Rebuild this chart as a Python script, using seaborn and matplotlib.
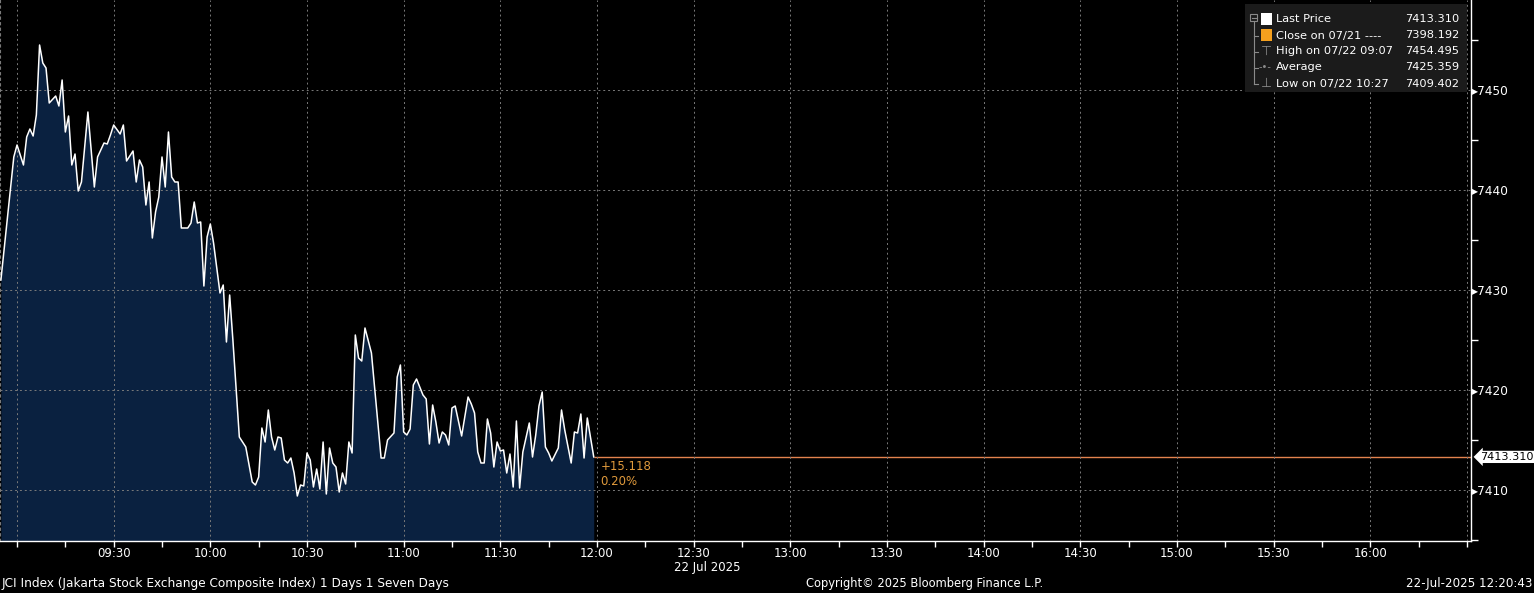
import pandas as pd
import seaborn as sns
import matplotlib.pyplot as plt
import matplotlib.dates as mdates
import matplotlib.ticker as mticker
import matplotlib.transforms as mtransforms
from matplotlib.patches import Rectangle
from matplotlib.lines import Line2D

# Intraday prints (22 Jul 2025)
times = [
    "08:55", "08:59", "09:00", "09:02", "09:03", "09:04", "09:05", "09:06", "09:07", "09:08",
    "09:09", "09:10", "09:12", "09:13", "09:14", "09:15", "09:16", "09:17", "09:18", "09:19",
    "09:20", "09:22", "09:24", "09:25", "09:27", "09:28", "09:29", "09:30", "09:32", "09:33",
    "09:34", "09:36", "09:37", "09:38", "09:39", "09:40", "09:41", "09:42", "09:43", "09:44",
    "09:45", "09:46", "09:47", "09:48", "09:49", "09:50", "09:51", "09:53", "09:54", "09:55",
    "09:56", "09:57", "09:58", "09:59", "10:00", "10:01", "10:03", "10:04", "10:05", "10:06",
    "10:07", "10:09", "10:11", "10:13", "10:14", "10:15", "10:16", "10:17", "10:18", "10:19",
    "10:20", "10:21", "10:22", "10:23", "10:24", "10:25", "10:26", "10:27", "10:28", "10:29",
    "10:30", "10:31", "10:32", "10:33", "10:34", "10:35", "10:36", "10:37", "10:38", "10:39",
    "10:40", "10:41", "10:42", "10:43", "10:44", "10:45", "10:46", "10:47", "10:48", "10:50",
    "10:53", "10:54", "10:55", "10:57", "10:58", "10:59", "11:00", "11:01", "11:02", "11:03",
    "11:04", "11:06", "11:07", "11:08", "11:09", "11:10", "11:11", "11:12", "11:13", "11:14",
    "11:15", "11:16", "11:18", "11:20", "11:21", "11:22", "11:23", "11:24", "11:25", "11:26",
    "11:27", "11:28", "11:29", "11:30", "11:31", "11:32", "11:33", "11:34", "11:35", "11:36",
    "11:37", "11:39", "11:40", "11:41", "11:42", "11:43", "11:44", "11:45", "11:46", "11:48",
    "11:49", "11:50", "11:52", "11:53", "11:54", "11:55", "11:56", "11:57", "11:59",
]
prices = [
    7431.0, 7443.3, 7444.5, 7442.5, 7445.3, 7446.1, 7445.4, 7447.5, 7454.5, 7452.7,
    7452.2, 7448.7, 7449.4, 7448.4, 7451.0, 7445.8, 7447.4, 7442.5, 7443.6, 7439.9,
    7440.8, 7447.8, 7440.3, 7443.3, 7444.7, 7444.6, 7445.5, 7446.5, 7445.6, 7446.5,
    7442.9, 7443.9, 7440.8, 7443.0, 7442.3, 7438.5, 7440.8, 7435.2, 7437.8, 7439.3,
    7443.3, 7440.3, 7445.8, 7441.3, 7440.8, 7440.8, 7436.2, 7436.2, 7436.7, 7438.8,
    7436.7, 7436.8, 7430.4, 7435.3, 7436.6, 7434.7, 7429.7, 7430.5, 7424.8, 7429.5,
    7425.0, 7415.3, 7414.3, 7410.8, 7410.5, 7411.3, 7416.2, 7414.8, 7418.0, 7415.3,
    7414.0, 7415.3, 7415.2, 7413.0, 7412.7, 7413.2, 7411.7, 7409.4, 7410.5, 7410.4,
    7413.7, 7413.0, 7410.3, 7412.1, 7410.1, 7414.8, 7409.6, 7414.2, 7412.7, 7412.3,
    7409.8, 7411.7, 7410.6, 7414.8, 7413.7, 7425.5, 7423.2, 7422.9, 7426.2, 7423.7,
    7413.2, 7413.2, 7415.0, 7415.7, 7421.3, 7422.5, 7415.8, 7415.5, 7416.1, 7420.5,
    7421.1, 7419.5, 7419.1, 7414.6, 7418.5, 7416.8, 7414.7, 7415.8, 7415.5, 7414.5,
    7418.2, 7418.4, 7415.4, 7419.3, 7418.6, 7417.7, 7413.8, 7412.7, 7412.7, 7417.1,
    7415.7, 7412.3, 7414.8, 7413.9, 7414.0, 7411.7, 7413.6, 7410.3, 7416.9, 7410.2,
    7413.8, 7416.7, 7413.3, 7415.5, 7418.4, 7419.8, 7414.3, 7413.7, 7412.9, 7414.2,
    7418.0, 7416.0, 7412.7, 7415.8, 7415.7, 7417.6, 7413.2, 7417.2, 7413.31,
]

# Legend / summary values
legend_labels = ["Last Price", "Close on 07/21 ----", "High on 07/22 09:07", "Average", "Low on 07/22 10:27"]
legend_values = [7413.310, 7398.192, 7454.495, 7425.359, 7409.402]
prev_close = 7398.192

tick_times = ["09:00", "09:30", "10:00", "10:30", "11:00", "11:30", "12:00", "12:30", "13:00",
              "13:30", "14:00", "14:30", "15:00", "15:30", "16:00", "16:30"]

day = "2025-07-22 "
df = pd.DataFrame({"time": pd.to_datetime([day + t for t in times]), "price": prices})
last = df["price"].iloc[-1]
change = last - prev_close
pct = change / prev_close * 100

W, H = 1534, 593
BG = "black"
NAVY = "#0a2140"
ORANGE_LINE = "#e3834e"
ORANGE_TXT = "#e09a3c"
GRID = "#7a7a7a"

plt.rcParams["font.family"] = ["DejaVu Sans"]
fig = plt.figure(figsize=(W / 100, H / 100), dpi=100, facecolor=BG)
ax = fig.add_axes([0, 52 / H, 1471 / W, 541 / H], facecolor=BG)

# area + line
ax.fill_between(df["time"], df["price"], 7400, color=NAVY, lw=0, zorder=1)
sns.lineplot(data=df, x="time", y="price", color="white", lw=1.1, ax=ax, zorder=3)

# last price line from last print to right edge
x_right = pd.Timestamp(day + "16:31:17")
ax.hlines(last, df["time"].iloc[-1], x_right, color=ORANGE_LINE, lw=1.0, zorder=2)

ax.set_xlim(pd.Timestamp(day + "08:54:43"), x_right)
ax.set_ylim(7404.9, 7459.0)
ax.set_xlabel("")
ax.set_ylabel("")

# x ticks
ax.xaxis.set_major_locator(mticker.FixedLocator(mdates.date2num(pd.to_datetime([day + t for t in tick_times]))))
ax.xaxis.set_minor_locator(mdates.MinuteLocator(byminute=[15, 45]))
ax.xaxis.set_major_formatter(mticker.FuncFormatter(
    lambda v, p: "" if mdates.num2date(v).strftime("%H:%M") in ("09:00", "16:30")
    else mdates.num2date(v).strftime("%H:%M")))
ax.tick_params(axis="x", which="both", colors="white", length=4, width=1, labelsize=8.5, pad=0,
               labelcolor="white")

# y ticks on the right
ax.yaxis.tick_right()
ax.yaxis.set_major_locator(mticker.MultipleLocator(10))
ax.yaxis.set_minor_locator(mticker.MultipleLocator(5))
ax.yaxis.set_major_formatter(mticker.FuncFormatter(lambda v, p: "\u25b8" + f"{v:.0f}"))
ax.tick_params(axis="y", which="major", length=0, pad=1, labelsize=8.7, labelcolor="white")
ax.tick_params(axis="y", which="minor", length=5, width=1, colors="white")

ax.grid(True, which="major", color=GRID, linestyle=(0, (2, 3)), linewidth=0.7)
ax.set_axisbelow(False)
for l in ax.get_xgridlines() + ax.get_ygridlines():
    l.set_zorder(2.5)

ax.spines["top"].set_visible(False)
ax.spines["left"].set_color(GRID)
ax.spines["left"].set_linestyle((0, (2, 3)))
ax.spines["left"].set_linewidth(0.8)
for s in ["right", "bottom"]:
    ax.spines[s].set_color("white")
    ax.spines[s].set_linewidth(1.0)

# last price tag on the axis
ax.annotate(f"{last:.3f}", xy=(1.0, last),
            xycoords=mtransforms.blended_transform_factory(ax.transAxes, ax.transData),
            xytext=(9, 0), textcoords="offset pixels", ha="left", va="center",
            fontsize=8.1, color="black",
            bbox=dict(boxstyle="larrow,pad=0.1", fc="white", ec="none"),
            annotation_clip=False)

# change labels
t_last = mdates.date2num(df["time"].iloc[-1])
ax.annotate(f"{change:+.3f}", xy=(t_last, last), xytext=(7, -10),
            textcoords="offset pixels", ha="left", va="center", fontsize=8.5, color=ORANGE_TXT)
ax.annotate(f"{pct:.2f}%", xy=(t_last, last), xytext=(7, -25),
            textcoords="offset pixels", ha="left", va="center", fontsize=8.5, color=ORANGE_TXT)

# date under the 12:30 label
ax.annotate("22 Jul 2025", xy=(mdates.date2num(pd.Timestamp(day + "12:30")), 0),
            xycoords=mtransforms.blended_transform_factory(ax.transData, ax.transAxes),
            xytext=(-20, -26), textcoords="offset pixels", ha="left", va="center",
            fontsize=8.5, color="white", annotation_clip=False)


def P(x, y):
    return x / W, 1 - y / H


# legend box
fig.add_artist(Rectangle(P(1245, 92), 222 / W, 88 / H, transform=fig.transFigure,
                         fc="#1b1b1b", ec="none", zorder=5))
rows_y = [19.5, 35.5, 51.5, 67.5, 84]
tree = "#8a8a8a"
fig.add_artist(Rectangle(P(1250, 21), 7 / W, 7 / H, transform=fig.transFigure, fc="none",
                         ec=tree, lw=0.8, zorder=6))
fig.add_artist(Line2D([P(1251.5, 0)[0], P(1255.5, 0)[0]], [P(0, 17.5)[1]] * 2,
                      transform=fig.transFigure, color=tree, lw=0.8, zorder=6))
fig.add_artist(Line2D([P(1253.5, 0)[0]] * 2, [P(0, 21)[1], P(0, 84)[1]],
                      transform=fig.transFigure, color=tree, lw=0.8, zorder=6))
for ry in rows_y[1:]:
    fig.add_artist(Line2D([P(1253.5, 0)[0], P(1258, 0)[0]], [P(0, ry)[1]] * 2,
                          transform=fig.transFigure, color=tree, lw=0.8, zorder=6))
fig.add_artist(Rectangle(P(1261, 25), 11 / W, 12 / H, transform=fig.transFigure,
                         fc="white", ec="none", zorder=6))
fig.add_artist(Rectangle(P(1261, 41), 11 / W, 12 / H, transform=fig.transFigure,
                         fc="#f5a01e", ec="none", zorder=6))
fig.text(*P(1266, 51.5), "\u22a4", color=tree, fontsize=9, ha="center", va="center", zorder=6)
fig.text(*P(1265, 67.5), "-\u2022-", color=tree, fontsize=7, ha="center", va="center", zorder=6)
fig.text(*P(1266, 83.5), "\u22a5", color=tree, fontsize=9, ha="center", va="center", zorder=6)
for ry, lab, val in zip(rows_y, legend_labels, legend_values):
    fig.text(*P(1276, ry), lab, color="white", fontsize=8.2, ha="left", va="center", zorder=6)
    fig.text(*P(1459, ry), f"{val:.3f}", color="white", fontsize=8.2, ha="right", va="center", zorder=6)

# footer
fig.text(*P(2, 584), "JCI Index (Jakarta Stock Exchange Composite Index) 1 Days 1 Seven Days",
         color="white", fontsize=8.7, ha="left", va="center")
fig.text(*P(925, 584), "Copyright\u00a9 2025 Bloomberg Finance L.P.",
         color="white", fontsize=8.3, ha="center", va="center")
fig.text(*P(1532, 584), "22-Jul-2025 12:20:43", color="white", fontsize=8.6, ha="right", va="center")

fig.savefig("out.png", dpi=100, facecolor=BG)
